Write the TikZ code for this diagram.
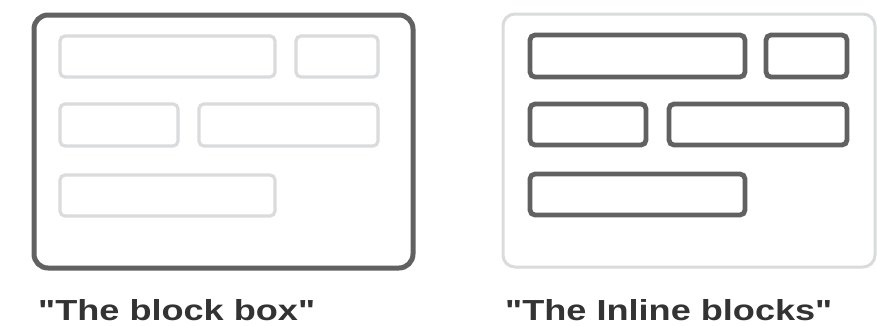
\documentclass[tikz,border=0pt]{standalone}
\usepackage{fontspec}
\setmainfont{Liberation Sans}[Ligatures=TeXOff]
\definecolor{darkline}{HTML}{616161}
\definecolor{lightline}{HTML}{D9DBDC}
\definecolor{txt}{HTML}{333333}
\begin{document}
\begin{tikzpicture}[x=1pt,y=-1pt,
  outerdark/.style={draw=darkline,line width=5pt,rounded corners=14pt},
  outerlight/.style={draw=lightline,line width=3pt,rounded corners=12pt},
  innerlight/.style={draw=lightline,line width=3.2pt,rounded corners=5pt},
  innerdark/.style={draw=darkline,line width=4.8pt,rounded corners=5pt},
  caption/.style={anchor=base west,inner sep=0pt,text=txt,font=\fontsize{29}{34}\selectfont\bfseries}]
\useasboundingbox[fill=white] (0,0) rectangle (877,325);
% left panel
\draw[outerdark] (34,15) rectangle (413,268);
\draw[innerlight] (60,36) rectangle (275,77);
\draw[innerlight] (296,36) rectangle (378,77);
\draw[innerlight] (60,104) rectangle (178,146);
\draw[innerlight] (199,104) rectangle (378,146);
\draw[innerlight] (60,175) rectangle (275,216);
% right panel
\draw[outerlight] (503,14) rectangle (875,267);
\draw[innerdark] (530,35) rectangle (745,77);
\draw[innerdark] (766,35) rectangle (847,77);
\draw[innerdark] (530,104) rectangle (646,145);
\draw[innerdark] (669,104) rectangle (847,145);
\draw[innerdark] (530,174) rectangle (745,215);
% captions
\node[caption] (capL) at (38,320) {\scalebox{1.245}[1]{"The block box"}};
\node[caption] (capR) at (505,320) {\scalebox{1.245}[1]{"The Inline blocks"}};
\end{tikzpicture}
\end{document}
